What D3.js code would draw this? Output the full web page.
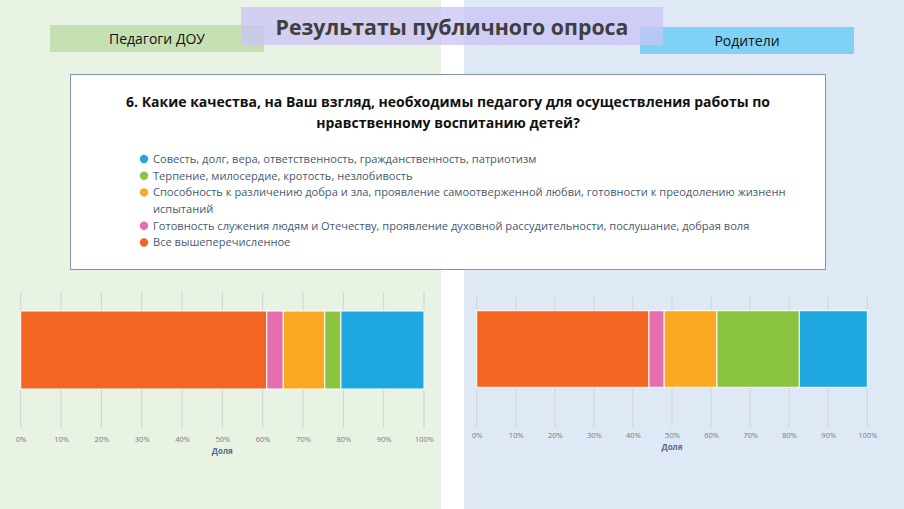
<!DOCTYPE html>
<html><head><meta charset="utf-8">
<script src="https://cdn.jsdelivr.net/npm/d3@7"></script>
<style>body{margin:0;background:#fff}svg{display:block}</style>
</head><body>
<script>
const categories = ["Совесть, долг, вера, ответственность, гражданственность, патриотизм",
  "Терпение, милосердие, кротость, незлобивость",
  "Способность к различению добра и зла, проявление самоотверженной любви, готовности к преодолению жизненн\nиспытаний",
  "Готовность служения людям и Отечеству, проявление духовной рассудительности, послушание, добрая воля",
  "Все вышеперечисленное"];
const colors = ["#1fa8e0", "#8bc441", "#fba823", "#e66eae", "#f26522"];
// stacking order in bars: last category first
const teachers = [20.6, 4.0, 10.3, 4.1, 61.0];
const parents  = [17.4, 21.1, 13.5, 3.9, 44.1];
const ticks = [0,10,20,30,40,50,60,70,80,90,100];
const groups = ["Педагоги ДОУ", "Родители"];
const title = "Результаты публичного опроса";
const question = ["6. Какие качества, на Ваш взгляд, необходимы педагогу для осуществления работы по", "нравственному воспитанию детей?"];
const axisTitle = "Доля";

const W=904,H=509;
const svg=d3.select("body").append("svg").attr("width",W).attr("height",H);
svg.append("rect").attr("x",0).attr("y",0).attr("width",441).attr("height",H).attr("fill","#e9f3e3");
svg.append("rect").attr("x",464).attr("y",0).attr("width",W-464).attr("height",H).attr("fill","#dee9f5");

// group labels
svg.append("rect").attr("x",50).attr("y",25).attr("width",214).attr("height",27).attr("fill","#c5e0b3");
svg.append("text").attr("x",157).attr("y",44).attr("text-anchor","middle").attr("font-family","Open Sans").attr("font-size",14).attr("fill","#111").text(groups[0]);
svg.append("rect").attr("x",640).attr("y",27).attr("width",214).attr("height",27).attr("fill","#7fd2f6");
svg.append("text").attr("x",747).attr("y",46).attr("text-anchor","middle").attr("font-family","Open Sans").attr("font-size",14).attr("fill","#111").text(groups[1]);
// title
svg.append("rect").attr("x",241).attr("y",7).attr("width",422).attr("height",38).attr("fill","#c9c3f5").attr("opacity",0.75);
svg.append("text").attr("x",452).attr("y",35).attr("text-anchor","middle").attr("font-family","Open Sans").attr("font-weight","bold").attr("font-size",21.3).attr("fill","#3f3f3f").text(title);

// question box
svg.append("rect").attr("x",70.5).attr("y",74.5).attr("width",755).attr("height",195).attr("fill","#fff").attr("stroke","#7f95a8").attr("stroke-width",1);
question.forEach((q,i)=>svg.append("text").attr("x",448).attr("y",107+i*21).attr("text-anchor","middle")
  .attr("font-family","Open Sans").attr("font-weight","bold").attr("font-size",14).attr("fill","#111").text(q));

// legend
let ly=159;
categories.forEach((c,i)=>{
  svg.append("circle").attr("cx",144).attr("cy",ly).attr("r",4.2).attr("fill",colors[i]);
  c.split("\n").forEach((line,j)=>{
    svg.append("text").attr("x",153).attr("y",ly+j*16.7).attr("dy","0.35em").attr("font-family","Open Sans")
      .attr("font-size",11.1).attr("fill","#475a70").text(line);
  });
  ly += 16.7*c.split("\n").length;
});

function chart(vals,x0,x1,gTop,gBot,barTop,barBot,tickY,titleY){
  const x=d3.scaleLinear().domain([0,100]).range([x0,x1]);
  const g=svg.append("g");
  g.selectAll("line.grid").data(ticks).join("line").attr("x1",d=>x(d)).attr("x2",d=>x(d))
    .attr("y1",gTop).attr("y2",gBot).attr("stroke","#cfd3d6").attr("stroke-width",1);
  const order=[4,3,2,1,0];
  let cum=0; const segs=order.map(i=>{const s={i,a:cum,b:cum+vals[i]};cum+=vals[i];return s;});
  g.selectAll("rect.seg").data(segs).join("rect").attr("x",d=>x(d.a)).attr("width",d=>x(d.b)-x(d.a))
    .attr("y",barTop).attr("height",barBot-barTop).attr("fill",d=>colors[d.i]).attr("stroke","#fff").attr("stroke-width",1);
  const ax=d3.axisBottom(x).tickValues(ticks).tickFormat(d=>d+"%").tickSize(0);
  const a=g.append("g").attr("transform",`translate(0,${tickY})`).call(ax);
  a.select(".domain").remove();
  a.selectAll("text").attr("font-family","Open Sans").attr("font-size",7.5).attr("fill","#7a7a7a").attr("dy","0.35em").attr("y",0);
  g.append("text").attr("x",(x0+x1)/2).attr("y",titleY).attr("dy","0.35em").attr("text-anchor","middle")
    .attr("font-family","Open Sans").attr("font-weight","bold").attr("font-size",8).attr("fill","#4f6d93").text(axisTitle);
}
chart(teachers,20.7,424,292,428,311,389,439,451);
chart(parents,476.7,867.3,296,427,310.7,387.3,435,447);
</script>
</body></html>
